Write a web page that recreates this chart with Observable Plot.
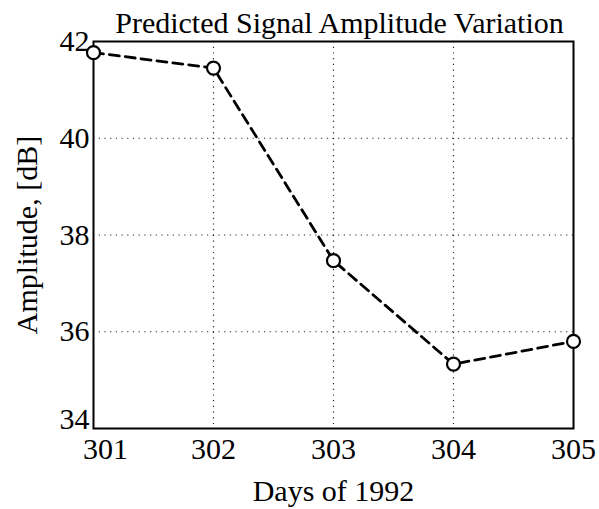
<!DOCTYPE html>
<html>
<head>
<meta charset="utf-8">
<script src="https://cdn.jsdelivr.net/npm/d3@7"></script>
<script src="https://cdn.jsdelivr.net/npm/@observablehq/plot@0.6"></script>
<style>
  html, body { margin: 0; padding: 0; background: white; }
</style>
</head>
<body>
<div id="chart"></div>
<script>
const title = "Predicted Signal Amplitude Variation";
const xLabel = "Days of 1992";
const yLabel = "Amplitude, [dB]";
const days = [301, 302, 303, 304, 305];
const amplitude = [41.77, 41.45, 37.47, 35.33, 35.8];
const xTicks = [301, 302, 303, 304, 305];
const yTicks = [34, 36, 38, 40, 42];

const data = days.map((d, i) => ({day: d, amp: amplitude[i]}));
const font = "'Liberation Serif', 'Times New Roman', serif";

const chart = Plot.plot({
  width: 599,
  height: 509,
  marginLeft: 93,
  marginRight: 26,
  marginTop: 41,
  marginBottom: 81,
  style: {fontFamily: font, fontSize: "30px", color: "black", background: "white"},
  x: {domain: [301, 305]},
  y: {domain: [34, 42]},
  marks: [
    Plot.gridX(xTicks.slice(1, -1), {stroke: "black", strokeOpacity: 0.85, strokeWidth: 1.2, strokeDasharray: "1.2,4.5"}),
    Plot.gridY(yTicks.slice(1, -1), {stroke: "black", strokeOpacity: 0.85, strokeWidth: 1.2, strokeDasharray: "1.2,4.5"}),
    Plot.frame({stroke: "black", strokeWidth: 2}),
    Plot.axisX(xTicks.slice(1), {tickSize: 0, tickPadding: 9, tickFormat: d => String(d), fontSize: 30,
      label: xLabel, labelAnchor: "center", labelArrow: "none", labelOffset: 72}),
    Plot.axisX(xTicks.slice(0, 1), {tickSize: 0, tickPadding: 9, tickFormat: d => String(d), fontSize: 30, dx: 12, label: null}),
    Plot.axisY(yTicks.slice(1), {tickSize: 0, tickPadding: 4, fontSize: 30,
      label: yLabel, labelAnchor: "center", labelArrow: "none", labelOffset: 78}),
    Plot.axisY(yTicks.slice(0, 1), {tickSize: 0, tickPadding: 4, fontSize: 30, dy: -9, label: null}),
    Plot.line(data, {x: "day", y: "amp", stroke: "black", strokeWidth: 2.8, strokeDasharray: "10,6"}),
    Plot.dot(data, {x: "day", y: "amp", r: 6.5, fill: "white", stroke: "black", strokeWidth: 2.2}),
    Plot.text([title], {frameAnchor: "top", dx: 6, dy: -9, lineAnchor: "bottom", fontSize: 30, fill: "black"})
  ]
});
document.getElementById("chart").appendChild(chart);
</script>
</body>
</html>
